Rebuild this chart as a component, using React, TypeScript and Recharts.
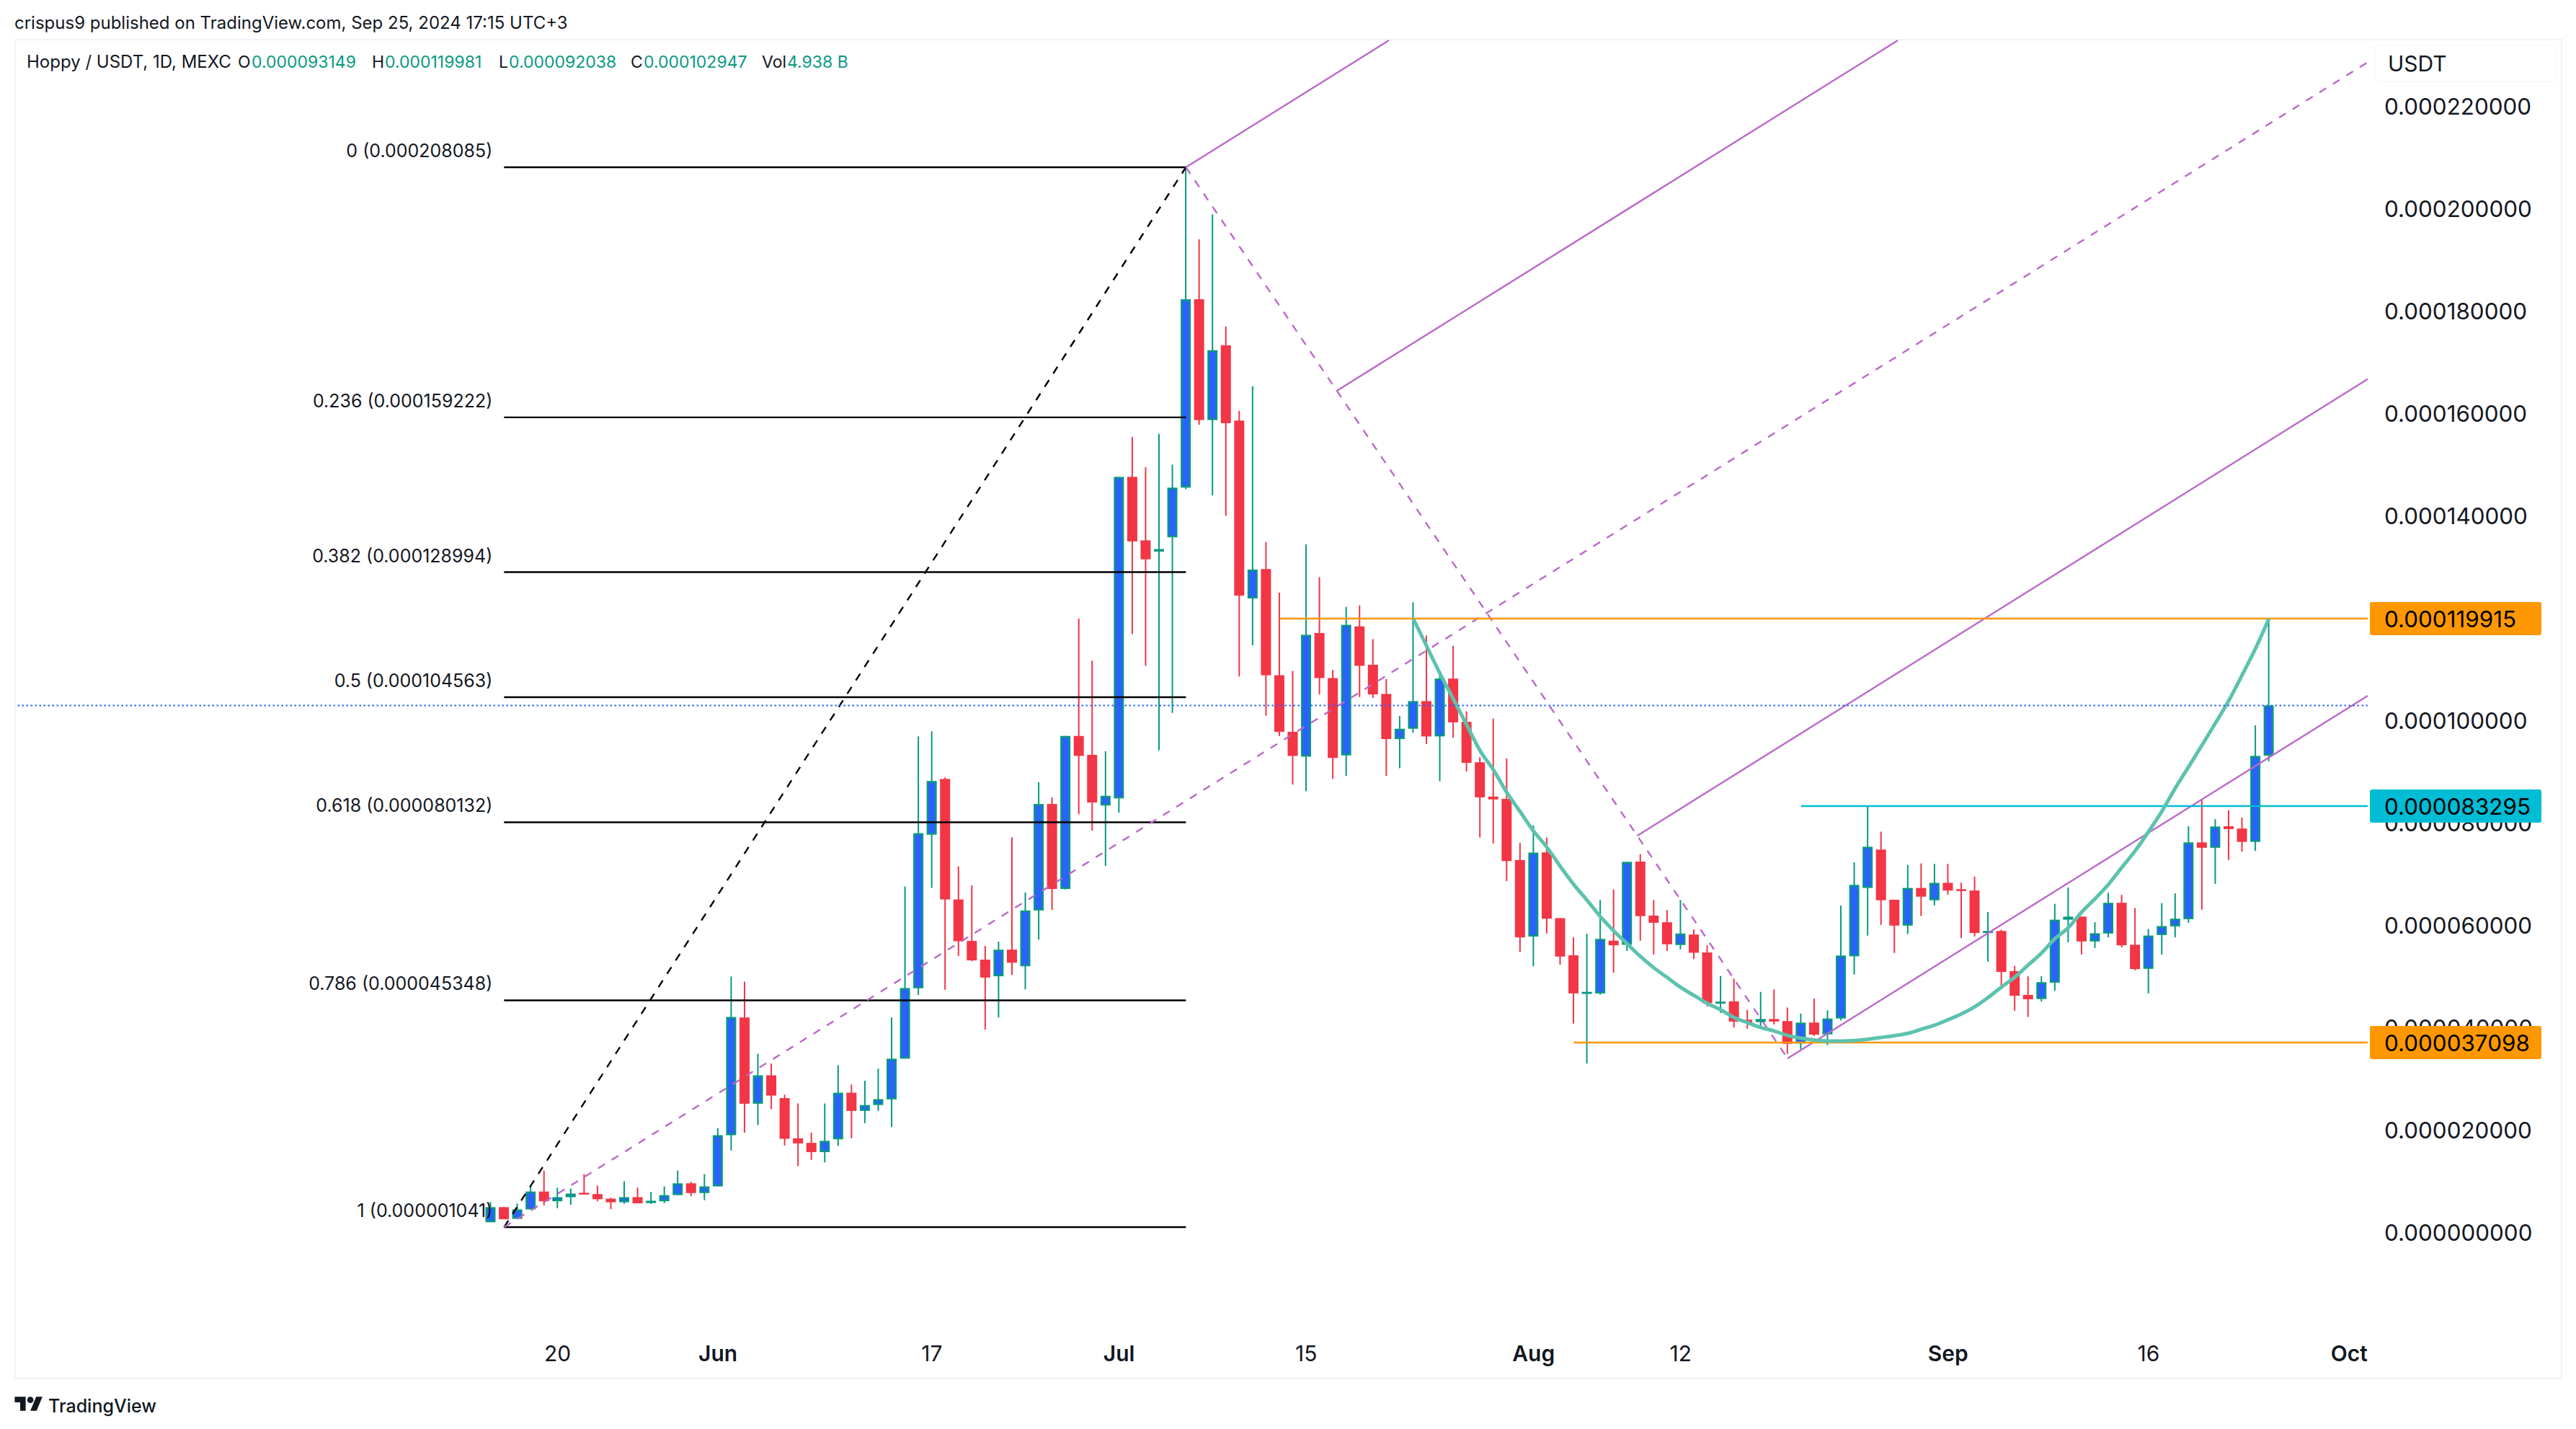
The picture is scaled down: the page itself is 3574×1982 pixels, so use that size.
import React from 'react';
import { ComposedChart, Bar, Line, XAxis, YAxis, ReferenceLine } from 'recharts';

// prices are in millionths of a USDT, x is the bar index (0 = May 15, 2024)
const opens = [2, 4.95, 2.67, 4.5, 8, 6.1, 6.9, 7.75, 7.5, 6.6, 5.9, 6.9, 5.75, 6.1, 7.3, 9.6, 7.7, 9, 19, 42, 25.15, 30.7, 26.25, 18.4, 17.5, 15.7, 18.2, 27.3, 23.75, 24.9, 26, 33.95, 47.7, 77.7, 88.6, 65.05, 56.95, 53.3, 50.05, 55.25, 52, 62.9, 83.7, 67.1, 97, 93.3, 83.4, 84.8, 147.6, 135.2, 133, 135.8, 145.5, 182.3, 158.7, 173.3, 158.6, 123.85, 129.6, 108.85, 97.8, 92.95, 117.1, 108.3, 93.2, 118.4, 110.9, 105.2, 96.4, 98.4, 103.8, 96.9, 108.2, 99.75, 91.85, 85.15, 84.7, 72.75, 57.8, 74.25, 61.4, 54.15, 46.7, 46.7, 57, 56.2, 72.45, 61.9, 60.6, 56.15, 58.2, 54.7, 44.8, 45.15, 41.55, 41.1, 41.7, 41.3, 36.9, 41, 38.7, 41.8, 53.95, 67.3, 74.8, 65, 59.95, 67.3, 64.9, 68.3, 67.05, 66.8, 58.5, 58.9, 51.05, 46.4, 45.6, 48.8, 61.1, 61.7, 56.85, 58.4, 64.4, 56.2, 51.5, 58.1, 59.8, 61.2, 76.2, 75.15, 79.35, 78.9, 76.3, 93.149];
const highs = [5.93, 4.95, 5.64, 9, 12.1, 8.75, 8.6, 11.4, 9.15, 6.8, 10, 8.75, 7.9, 9, 12.1, 9.9, 11.4, 20.4, 50, 49, 34.9, 33, 26.9, 25.2, 19.5, 25.2, 32.7, 28.9, 29.65, 32, 42, 67.6, 96.9, 97.9, 88.9, 71.5, 67.8, 55.95, 56.8, 77.2, 66.4, 87.95, 85, 97, 119.9, 111.7, 94, 147.6, 155.4, 149.5, 156, 150, 207.9, 194, 198.9, 177, 160.5, 165.3, 134.9, 125, 109.7, 134.4, 128, 109.9, 122.2, 122.5, 115.9, 108.1, 100.9, 123.1, 116.6, 109.65, 114.6, 101.8, 92.85, 100.4, 92.6, 76.1, 79.5, 77.15, 61.4, 57.65, 58.35, 64.95, 67, 72.4, 73.9, 64.95, 63, 64.95, 59.2, 56.1, 50.1, 49.6, 43.45, 47, 47.5, 43.95, 42.75, 45.7, 43.4, 63.85, 72.3, 83.3, 78.3, 65, 71.8, 72.1, 72, 72, 68.35, 69.5, 62.6, 59.15, 52.1, 50.05, 50.05, 64.2, 67.4, 61.7, 60.6, 66.35, 65.95, 63.4, 59.3, 64.35, 66.25, 79.35, 84.65, 80.75, 82.45, 81.05, 99.05, 119.981];
const lows = [2, 2.58, 2.67, 4.5, 5.3, 4.75, 5.4, 7.55, 6.1, 4.55, 5.6, 5.7, 5.6, 5.75, 7.3, 7.1, 6.3, 9, 16, 19.5, 21, 24.1, 17, 12.95, 14.2, 13.7, 16.9, 18.4, 21.35, 23.75, 20.6, 33.95, 46.4, 67.3, 47.4, 54, 53, 39.65, 42, 50.3, 47.5, 57.2, 63, 67, 81.7, 78.5, 71.6, 82, 116.9, 110.7, 94.2, 101.5, 145.2, 157.8, 144, 140, 108.6, 114.7, 100.95, 97, 87.5, 86.2, 105.1, 88.6, 89.2, 104.6, 104.4, 89.2, 90.7, 97.6, 95.4, 88.15, 96.65, 90.05, 77.15, 76, 68.65, 54.8, 52, 58.4, 52.3, 40.8, 33, 46.45, 50.75, 55, 57, 54.3, 55, 55.3, 53.4, 44.15, 42.9, 40.05, 39.8, 39.8, 40.65, 34.9, 35.8, 38.4, 36.6, 41.4, 50.4, 58, 60.1, 54.6, 58.3, 61.8, 63.9, 66, 57.5, 57.8, 52.9, 48.05, 43.3, 42.1, 45.1, 47.2, 56.7, 54.3, 55.55, 57.65, 55.7, 51.2, 46.7, 54.3, 57.65, 60.5, 63.05, 68.1, 72.75, 74.4, 74.55, 92.038];
const closes = [4.95, 2.58, 4.5, 8, 6.1, 6.9, 7.6, 7.55, 6.5, 5.9, 6.9, 5.7, 6.2, 7.3, 9.6, 7.7, 9, 19, 42.1, 25.15, 30.7, 26.75, 18.3, 17.4, 15.7, 17.9, 27.3, 23.75, 24.9, 26.05, 33.95, 47.75, 78, 88.2, 65.05, 56.9, 53.15, 49.8, 55.25, 52.7, 62.9, 83.7, 67.1, 97, 93.1, 84, 85.3, 147.6, 135, 131.5, 133.5, 145.5, 182.3, 158.7, 172.35, 158.1, 124.4, 129.5, 108.85, 97.8, 93.1, 116.75, 108.3, 92.7, 118.7, 110.7, 105.1, 96.4, 98.4, 103.8, 96.9, 108.2, 99.65, 91.75, 85, 84.6, 72.55, 57.65, 74.2, 61.3, 53.9, 46.7, 47, 57.35, 56.1, 72.4, 61.8, 60.5, 56.3, 58.4, 54.65, 44.8, 45.1, 41.2, 41.05, 41.7, 41.2, 36.85, 41, 38.65, 41.8, 54.1, 67.9, 75.35, 64.9, 59.95, 67.3, 65.6, 68.3, 66.8, 66.8, 58.5, 58.9, 50.9, 46.25, 45.55, 48.9, 61.1, 61.7, 56.85, 58.45, 64.4, 56.1, 51.45, 58, 59.85, 61.3, 76.2, 75.15, 79.3, 78.8, 76.3, 93.1, 102.947];

// green cup curve, one reading per bar from curveStart
const curveStart = 69;
const curveValues = [119.9, 114.56, 109.2, 104.2, 99.15, 94.1, 90.35, 85.95, 82.2, 78.4, 75.25, 71.5, 68, 64.9, 61.7, 58.9, 56.4, 53.9, 51.7, 49.8, 47.9, 46.3, 44.75, 43.5, 42, 41, 40.05, 39.35, 38.5, 37.95, 37.6, 37.4, 37.4, 37.5, 37.75, 38.1, 38.45, 38.9, 39.7, 40.5, 41.55, 42.7, 44.1, 45.9, 47.95, 49.9, 52.25, 54.6, 57.4, 59.55, 62.6, 65.2, 68, 71.3, 74.55, 78.3, 82.3, 86.8, 91, 95.2, 99.5, 103.9, 108.9, 114.1, 119.9];

const xTickBars = [5, 17, 33, 47, 61, 78, 89, 109, 124, 139];
const xTickLabels = ['20', 'Jun', '17', 'Jul', '15', 'Aug', '12', 'Sep', '16', 'Oct'];
const monthLabels = ['Jun', 'Jul', 'Aug', 'Sep', 'Oct'];
const yTicks = [0, 20, 40, 60, 80, 100, 120, 140, 160, 180, 200, 220];

const fibRatios = ['0', '0.236', '0.382', '0.5', '0.618', '0.786', '1'];
const fibPrices = [208.085, 159.222, 128.994, 104.563, 80.132, 45.348, 1.041];
const fibStartBar = 1;
const fibEndBar = 52;

const xMin = -35.515;
const xMax = 140.39;
const yMin = -18.39;
const yMax = 232.87;

// pitchfork, as [bar, price, bar, price]
const forkDashed = [
  [1, 1.041, 52, 208.085],
  [52, 208.085, 97, 34],
  [1, 1.041, xMax, 228.6],
];
const forkSolid = [
  [52, 208.085, 67.18, yMax],
  [63.27, 164.4, 105.25, yMax],
  [85.75, 77.5, xMax, 166.7],
  [97, 34, xMax, 104.84],
];

const taggedPrices = [119.915, 83.295, 37.098];
const taggedStarts = [59, 98, 81];
const taggedColors = ['#ff9800', '#00bcd4', '#ff9800'];
const lastClose = 102.947;

const legendItems = [
  { text: 'Hoppy / USDT, 1D, MEXC', left: 37, size: 24, color: '#131722' },
  { text: 'O', left: 330, size: 23, color: '#131722' },
  { text: '0.000093149', left: 349, size: 23, color: '#089981' },
  { text: 'H', left: 516, size: 23, color: '#131722' },
  { text: '0.000119981', left: 534, size: 23, color: '#089981' },
  { text: 'L', left: 692, size: 23, color: '#131722' },
  { text: '0.000092038', left: 706, size: 23, color: '#089981' },
  { text: 'C', left: 875, size: 23, color: '#131722' },
  { text: '0.000102947', left: 893, size: 23, color: '#089981' },
  { text: 'Vol', left: 1057, size: 23, color: '#131722' },
  { text: '4.938 B', left: 1092, size: 23, color: '#089981' },
];

const tableData = opens.map((open, i) => ({
  bar: i,
  open,
  high: highs[i],
  low: lows[i],
  close: closes[i],
  range: [lows[i], highs[i]],
  curve: i >= curveStart ? curveValues[i - curveStart] : null,
}));

const FONT = 'Inter, sans-serif';
const UP_FILL = '#2962ff';
const UP_EDGE = '#089981';
const DOWN = '#f23645';
const PURPLE = '#ba68c8';

const formatPrice = (v: number) => (v / 1e6).toFixed(9);

function Candle(props: any) {
  const { x, y, width, height, payload } = props;
  const k = height / (payload.high - payload.low);
  const cx = x + width / 2;
  const up = payload.close >= payload.open;
  const top = y + (payload.high - Math.max(payload.open, payload.close)) * k;
  const bodyH = Math.max(Math.abs(payload.close - payload.open) * k, 2.5);
  return (
    <g>
      <rect x={cx - 1} y={y} width={2} height={height} fill={up ? UP_EDGE : DOWN} />
      {up ? (
        <rect x={x + 1.2} y={top + 1.2} width={width - 2.4} height={Math.max(bodyH - 2.4, 0.4)} fill={UP_FILL} stroke={UP_EDGE} strokeWidth={2.4} />
      ) : (
        <rect x={x} y={top} width={width} height={bodyH} fill={DOWN} />
      )}
    </g>
  );
}

// the tagged prices come last in the tick list, so their boxes cover the round ticks
function PriceTick({ x, y, payload }: any) {
  const tagIndex = taggedPrices.indexOf(payload.value);
  const label = (
    <text x={x + 15} y={y + 1} fontFamily={FONT} fontSize={31.4} fill={tagIndex >= 0 ? '#000' : '#131722'} textAnchor="start" dominantBaseline="central">
      {formatPrice(payload.value)}
    </text>
  );
  if (tagIndex < 0) return label;
  return (
    <g>
      <rect x={x - 5} y={y - 23} width={238} height={46} rx={3} fill={taggedColors[tagIndex]} />
      {label}
    </g>
  );
}

function DateTick({ x, y, payload }: any) {
  const label = xTickLabels[xTickBars.indexOf(payload.value)];
  return (
    <text x={x} y={y + 29} fontFamily={FONT} fontSize={30} fontWeight={monthLabels.includes(label) ? 600 : 400} fill="#131722" textAnchor="middle" dominantBaseline="central">
      {label}
    </text>
  );
}

const fibLabel = (text: string) => (props: any) => (
  <text x={props.viewBox.x - 16} y={props.viewBox.y - 23} fontFamily={FONT} fontSize={25} fill="#131722" textAnchor="end" dominantBaseline="central">
    {text}
  </text>
);

export default function App() {
  return (
    <div style={{ position: 'absolute', left: 0, top: 0, width: 3574, height: 1982, background: '#fff', overflow: 'hidden', fontFamily: FONT, color: '#131722' }}>
      <div style={{ position: 'absolute', left: 20, top: 8, fontSize: 24, lineHeight: '48px', whiteSpace: 'nowrap' }}>
        crispus9 published on TradingView.com, Sep 25, 2024 17:15 UTC+3
      </div>
      <div style={{ position: 'absolute', left: 20, top: 54, width: 3535, height: 1859, boxSizing: 'border-box', border: '2.5px solid #f0f3fa' }} />
      {legendItems.map((item) => (
        <div key={item.left} style={{ position: 'absolute', left: item.left, top: 66, fontSize: item.size, lineHeight: '40px', color: item.color, whiteSpace: 'nowrap' }}>
          {item.text}
        </div>
      ))}
      <div style={{ position: 'absolute', left: 0, top: 0 }}>
        <ComposedChart width={3574} height={1982} data={tableData} margin={{ top: 56, right: 0, left: 22, bottom: 72 }}>
          <XAxis dataKey="bar" type="number" domain={[xMin, xMax]} allowDataOverflow ticks={xTickBars} tick={DateTick} height={70} axisLine={false} tickLine={false} interval={0} />
          <YAxis orientation="right" type="number" domain={[yMin, yMax]} allowDataOverflow ticks={[...yTicks, ...taggedPrices]} tick={PriceTick} width={289} axisLine={false} tickLine={false} interval={0} />
          {fibPrices.map((price, i) => (
            <ReferenceLine
              key={fibRatios[i]}
              segment={[{ x: fibStartBar, y: price }, { x: fibEndBar, y: price }]}
              stroke="#000"
              strokeWidth={2.4}
              label={fibLabel(`${fibRatios[i]} (${formatPrice(price)})`)}
            />
          ))}
          <ReferenceLine segment={[{ x: forkDashed[0][0], y: forkDashed[0][1] }, { x: forkDashed[0][2], y: forkDashed[0][3] }]} stroke="#000" strokeWidth={2.4} strokeDasharray="11 11" />
          {forkDashed.slice(1).map((s) => (
            <ReferenceLine key={s[2]} segment={[{ x: s[0], y: s[1] }, { x: s[2], y: s[3] }]} stroke={PURPLE} strokeWidth={2.4} strokeDasharray="11 11" />
          ))}
          {forkSolid.map((s) => (
            <ReferenceLine key={s[0]} segment={[{ x: s[0], y: s[1] }, { x: s[2], y: s[3] }]} stroke={PURPLE} strokeWidth={2.4} />
          ))}
          {taggedPrices.map((price, i) => (
            <ReferenceLine key={price} segment={[{ x: taggedStarts[i], y: price }, { x: xMax, y: price }]} stroke={taggedColors[i]} strokeWidth={2.4} />
          ))}
          <Line dataKey="curve" type="monotone" stroke="#5cc2ae" strokeWidth={5} dot={false} activeDot={false} isAnimationActive={false} />
          <Bar dataKey="range" barSize={14} shape={Candle} isAnimationActive={false} />
          <ReferenceLine y={lastClose} stroke={UP_FILL} strokeWidth={2} strokeDasharray="2.5 3.5" />
        </ComposedChart>
      </div>
      <div style={{ position: 'absolute', left: 3294, top: 62, width: 253, height: 52, boxSizing: 'border-box', border: '1.5px solid #f0f3fa', borderRadius: 8, background: '#fff', fontSize: 30, lineHeight: '50px', paddingLeft: 18 }}>
        USDT
      </div>
      <svg style={{ position: 'absolute', left: 20, top: 1933 }} width={42} height={26} viewBox="0 0 38 24">
        <path d="M14 22H7V11H0V4h14v18zM28 22h-8l7.5-18h8L28 22z" fill="#131722" />
        <circle cx={20} cy={8} r={4} fill="#131722" />
      </svg>
      <div style={{ position: 'absolute', left: 67, top: 1930, fontSize: 25, lineHeight: '40px', fontWeight: 500, whiteSpace: 'nowrap' }}>TradingView</div>
    </div>
  );
}
